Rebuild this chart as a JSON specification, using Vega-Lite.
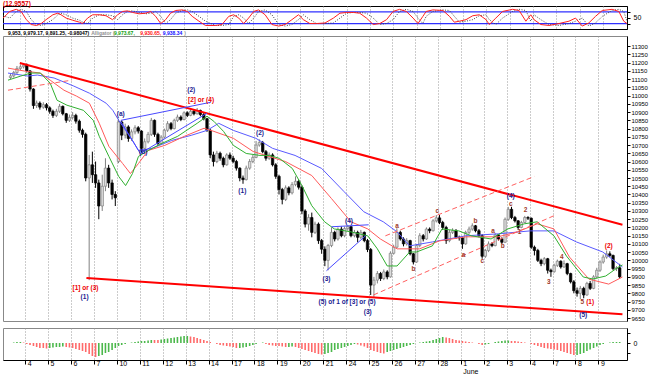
{
"$schema": "https://vega.github.io/schema/vega-lite/v6.json",
"padding": {"left": 0, "top": 0, "right": 0, "bottom": 0},
"background": "white",
"bounds": "flush",
"spacing": 7,
"config": {"font": "Liberation Sans", "view": {"stroke": "#888"}, "axis": {"labelFont": "Liberation Sans", "title": null, "labelOverlap": false, "labelBound": false}},
"datasets": {
"candles": [
{"t":-0.64,"o":11110,"h":11135,"l":11100,"c":11120,"ao":0,"g":"g"},
{"t":-0.5,"o":11120,"h":11150,"l":11110,"c":11140,"ao":0.5,"g":"g"},
{"t":-0.36,"o":11140,"h":11180,"l":11130,"c":11165,"ao":1,"g":"g"},
{"t":-0.21,"o":11165,"h":11190,"l":11155,"c":11175,"ao":1,"g":"g"},
{"t":-0.07,"o":11175,"h":11198,"l":11165,"c":11185,"ao":0.5,"g":"r"},
{"t":0.07,"o":11185,"h":11195,"l":11140,"c":11150,"ao":-1,"g":"r"},
{"t":0.21,"o":11150,"h":11155,"l":11025,"c":11040,"ao":-2,"g":"r"},
{"t":0.36,"o":11040,"h":11045,"l":10920,"c":10940,"ao":-3,"g":"r"},
{"t":0.5,"o":10940,"h":10970,"l":10925,"c":10955,"ao":-4,"g":"r"},
{"t":0.64,"o":10955,"h":10965,"l":10915,"c":10930,"ao":-5,"g":"r"},
{"t":0.79,"o":10930,"h":10960,"l":10920,"c":10945,"ao":-5,"g":"r"},
{"t":0.93,"o":10945,"h":10955,"l":10910,"c":10926,"ao":-5.5,"g":"r"},
{"t":1.07,"o":10926,"h":10935,"l":10890,"c":10905,"ao":-5,"g":"g"},
{"t":1.21,"o":10905,"h":10915,"l":10865,"c":10880,"ao":-4.5,"g":"g"},
{"t":1.36,"o":10880,"h":10920,"l":10870,"c":10905,"ao":-4,"g":"g"},
{"t":1.5,"o":10905,"h":10950,"l":10895,"c":10935,"ao":-4,"g":"g"},
{"t":1.64,"o":10935,"h":10940,"l":10880,"c":10890,"ao":-3.5,"g":"g"},
{"t":1.79,"o":10890,"h":10895,"l":10835,"c":10850,"ao":-4,"g":"r"},
{"t":1.93,"o":10850,"h":10885,"l":10840,"c":10868,"ao":-4.5,"g":"r"},
{"t":2.07,"o":10868,"h":10900,"l":10855,"c":10880,"ao":-5,"g":"r"},
{"t":2.21,"o":10880,"h":10890,"l":10830,"c":10845,"ao":-6,"g":"r"},
{"t":2.36,"o":10845,"h":10855,"l":10775,"c":10790,"ao":-7,"g":"r"},
{"t":2.5,"o":10790,"h":10800,"l":10745,"c":10765,"ao":-8,"g":"r"},
{"t":2.64,"o":10765,"h":10775,"l":10480,"c":10500,"ao":-9,"g":"r"},
{"t":2.79,"o":10500,"h":10640,"l":9880,"c":10580,"ao":-11,"g":"r"},
{"t":2.93,"o":10580,"h":10660,"l":10470,"c":10520,"ao":-13,"g":"r"},
{"t":3.07,"o":10520,"h":10600,"l":10440,"c":10470,"ao":-14,"g":"r"},
{"t":3.21,"o":10470,"h":10490,"l":10250,"c":10330,"ao":-13,"g":"g"},
{"t":3.36,"o":10330,"h":10520,"l":10300,"c":10450,"ao":-12,"g":"g"},
{"t":3.5,"o":10450,"h":10620,"l":10420,"c":10560,"ao":-10,"g":"g"},
{"t":3.64,"o":10560,"h":10580,"l":10440,"c":10470,"ao":-9,"g":"g"},
{"t":3.79,"o":10470,"h":10490,"l":10370,"c":10400,"ao":-7,"g":"g"},
{"t":3.93,"o":10400,"h":10420,"l":10330,"c":10380,"ao":-5,"g":"g"},
{"t":4.07,"o":10600,"h":10860,"l":10590,"c":10840,"ao":-3,"g":"g"},
{"t":4.21,"o":10840,"h":10850,"l":10730,"c":10760,"ao":-2,"g":"g"},
{"t":4.36,"o":10760,"h":10830,"l":10740,"c":10810,"ao":-1,"g":"g"},
{"t":4.5,"o":10810,"h":10820,"l":10720,"c":10740,"ao":0,"g":"g"},
{"t":4.64,"o":10740,"h":10795,"l":10725,"c":10780,"ao":0.5,"g":"g"},
{"t":4.79,"o":10780,"h":10820,"l":10765,"c":10805,"ao":1,"g":"g"},
{"t":4.93,"o":10805,"h":10815,"l":10770,"c":10785,"ao":1.5,"g":"g"},
{"t":5.07,"o":10785,"h":10790,"l":10650,"c":10680,"ao":2,"g":"g"},
{"t":5.21,"o":10680,"h":10740,"l":10665,"c":10720,"ao":2,"g":"g"},
{"t":5.36,"o":10720,"h":10780,"l":10710,"c":10765,"ao":2.5,"g":"g"},
{"t":5.5,"o":10765,"h":10865,"l":10755,"c":10850,"ao":3,"g":"g"},
{"t":5.64,"o":10850,"h":10855,"l":10750,"c":10765,"ao":3,"g":"r"},
{"t":5.79,"o":10765,"h":10775,"l":10695,"c":10710,"ao":3,"g":"r"},
{"t":5.93,"o":10710,"h":10760,"l":10700,"c":10748,"ao":3.5,"g":"g"},
{"t":6.07,"o":10748,"h":10800,"l":10740,"c":10790,"ao":4,"g":"g"},
{"t":6.21,"o":10790,"h":10845,"l":10780,"c":10830,"ao":4.5,"g":"g"},
{"t":6.36,"o":10830,"h":10840,"l":10790,"c":10800,"ao":5,"g":"g"},
{"t":6.5,"o":10800,"h":10860,"l":10795,"c":10850,"ao":5.5,"g":"g"},
{"t":6.64,"o":10850,"h":10885,"l":10840,"c":10870,"ao":6,"g":"g"},
{"t":6.79,"o":10870,"h":10880,"l":10845,"c":10855,"ao":6.5,"g":"g"},
{"t":6.93,"o":10855,"h":10905,"l":10850,"c":10896,"ao":7,"g":"g"},
{"t":7.07,"o":10896,"h":10905,"l":10870,"c":10880,"ao":7,"g":"g"},
{"t":7.21,"o":10880,"h":10915,"l":10875,"c":10905,"ao":6.5,"g":"r"},
{"t":7.36,"o":10905,"h":10915,"l":10880,"c":10890,"ao":6,"g":"r"},
{"t":7.5,"o":10890,"h":10925,"l":10885,"c":10910,"ao":5,"g":"r"},
{"t":7.64,"o":10910,"h":10915,"l":10875,"c":10885,"ao":4,"g":"r"},
{"t":7.79,"o":10885,"h":10895,"l":10850,"c":10860,"ao":3,"g":"r"},
{"t":7.93,"o":10860,"h":10865,"l":10780,"c":10790,"ao":2,"g":"r"},
{"t":8.07,"o":10790,"h":10800,"l":10620,"c":10640,"ao":1,"g":"r"},
{"t":8.21,"o":10640,"h":10660,"l":10570,"c":10600,"ao":0,"g":"r"},
{"t":8.36,"o":10600,"h":10665,"l":10590,"c":10650,"ao":-1,"g":"r"},
{"t":8.5,"o":10650,"h":10660,"l":10605,"c":10620,"ao":-2,"g":"r"},
{"t":8.64,"o":10620,"h":10630,"l":10565,"c":10580,"ao":-2.5,"g":"r"},
{"t":8.79,"o":10580,"h":10650,"l":10575,"c":10640,"ao":-3,"g":"r"},
{"t":8.93,"o":10640,"h":10655,"l":10610,"c":10620,"ao":-3.5,"g":"r"},
{"t":9.07,"o":10620,"h":10635,"l":10590,"c":10600,"ao":-4,"g":"r"},
{"t":9.21,"o":10600,"h":10610,"l":10545,"c":10560,"ao":-5,"g":"r"},
{"t":9.36,"o":10560,"h":10565,"l":10480,"c":10500,"ao":-5,"g":"g"},
{"t":9.5,"o":10500,"h":10515,"l":10465,"c":10490,"ao":-4.5,"g":"g"},
{"t":9.64,"o":10490,"h":10575,"l":10485,"c":10560,"ao":-4,"g":"g"},
{"t":9.79,"o":10560,"h":10615,"l":10550,"c":10600,"ao":-3,"g":"g"},
{"t":9.93,"o":10600,"h":10640,"l":10590,"c":10625,"ao":-2,"g":"g"},
{"t":10.07,"o":10625,"h":10725,"l":10620,"c":10700,"ao":-1,"g":"g"},
{"t":10.21,"o":10700,"h":10735,"l":10690,"c":10715,"ao":0,"g":"g"},
{"t":10.36,"o":10715,"h":10725,"l":10650,"c":10660,"ao":0.5,"g":"g"},
{"t":10.5,"o":10660,"h":10670,"l":10605,"c":10620,"ao":-1,"g":"r"},
{"t":10.64,"o":10620,"h":10655,"l":10610,"c":10640,"ao":-2,"g":"r"},
{"t":10.79,"o":10640,"h":10650,"l":10570,"c":10580,"ao":-2.5,"g":"r"},
{"t":10.93,"o":10580,"h":10590,"l":10495,"c":10510,"ao":-3,"g":"r"},
{"t":11.07,"o":10510,"h":10520,"l":10400,"c":10430,"ao":-3,"g":"r"},
{"t":11.21,"o":10430,"h":10440,"l":10340,"c":10370,"ao":-3.5,"g":"r"},
{"t":11.36,"o":10370,"h":10455,"l":10360,"c":10440,"ao":-4,"g":"r"},
{"t":11.5,"o":10440,"h":10450,"l":10395,"c":10410,"ao":-4,"g":"g"},
{"t":11.64,"o":10410,"h":10475,"l":10400,"c":10460,"ao":-3.5,"g":"g"},
{"t":11.79,"o":10460,"h":10510,"l":10450,"c":10480,"ao":-4,"g":"r"},
{"t":11.93,"o":10480,"h":10490,"l":10430,"c":10444,"ao":-5,"g":"r"},
{"t":12.07,"o":10444,"h":10455,"l":10280,"c":10300,"ao":-6,"g":"r"},
{"t":12.21,"o":10300,"h":10310,"l":10200,"c":10220,"ao":-7,"g":"r"},
{"t":12.36,"o":10220,"h":10280,"l":10180,"c":10260,"ao":-8,"g":"r"},
{"t":12.5,"o":10260,"h":10290,"l":10140,"c":10170,"ao":-9,"g":"r"},
{"t":12.64,"o":10170,"h":10235,"l":10160,"c":10220,"ao":-10,"g":"r"},
{"t":12.79,"o":10220,"h":10230,"l":10100,"c":10120,"ao":-11,"g":"r"},
{"t":12.93,"o":10120,"h":10130,"l":10040,"c":10068,"ao":-11.5,"g":"r"},
{"t":13.07,"o":10068,"h":10085,"l":9965,"c":10000,"ao":-11,"g":"g"},
{"t":13.21,"o":10000,"h":10100,"l":9940,"c":10090,"ao":-10,"g":"g"},
{"t":13.36,"o":10090,"h":10200,"l":10080,"c":10170,"ao":-9,"g":"g"},
{"t":13.5,"o":10170,"h":10180,"l":10115,"c":10130,"ao":-7,"g":"g"},
{"t":13.64,"o":10130,"h":10200,"l":10120,"c":10190,"ao":-6,"g":"g"},
{"t":13.79,"o":10190,"h":10205,"l":10140,"c":10150,"ao":-5,"g":"g"},
{"t":13.93,"o":10150,"h":10205,"l":10140,"c":10193,"ao":-4,"g":"g"},
{"t":14.07,"o":10193,"h":10215,"l":10180,"c":10205,"ao":-3,"g":"g"},
{"t":14.21,"o":10205,"h":10210,"l":10140,"c":10150,"ao":-2,"g":"g"},
{"t":14.36,"o":10150,"h":10185,"l":10140,"c":10170,"ao":-1,"g":"g"},
{"t":14.5,"o":10170,"h":10180,"l":10110,"c":10140,"ao":-1.5,"g":"r"},
{"t":14.64,"o":10140,"h":10185,"l":10130,"c":10170,"ao":-2.5,"g":"r"},
{"t":14.79,"o":10170,"h":10175,"l":10110,"c":10120,"ao":-3.5,"g":"r"},
{"t":14.93,"o":10120,"h":10130,"l":10050,"c":10066,"ao":-5,"g":"r"},
{"t":15.07,"o":10066,"h":10075,"l":9790,"c":9850,"ao":-7,"g":"r"},
{"t":15.21,"o":9850,"h":9900,"l":9775,"c":9880,"ao":-8,"g":"r"},
{"t":15.36,"o":9880,"h":9935,"l":9860,"c":9920,"ao":-9,"g":"r"},
{"t":15.5,"o":9920,"h":9930,"l":9875,"c":9890,"ao":-10,"g":"r"},
{"t":15.64,"o":9890,"h":9945,"l":9880,"c":9930,"ao":-10.5,"g":"r"},
{"t":15.79,"o":9930,"h":9940,"l":9885,"c":9900,"ao":-9,"g":"g"},
{"t":15.93,"o":9900,"h":10055,"l":9895,"c":10043,"ao":-8,"g":"g"},
{"t":16.07,"o":10043,"h":10095,"l":10035,"c":10080,"ao":-7,"g":"g"},
{"t":16.21,"o":10080,"h":10195,"l":10075,"c":10170,"ao":-6,"g":"g"},
{"t":16.36,"o":10170,"h":10180,"l":10120,"c":10130,"ao":-5,"g":"g"},
{"t":16.5,"o":10130,"h":10140,"l":10085,"c":10100,"ao":-4,"g":"g"},
{"t":16.64,"o":10100,"h":10135,"l":10090,"c":10120,"ao":-3,"g":"g"},
{"t":16.79,"o":10120,"h":10125,"l":10030,"c":10040,"ao":-2,"g":"g"},
{"t":16.93,"o":10040,"h":10045,"l":9975,"c":9990,"ao":-1,"g":"g"},
{"t":17.07,"o":9990,"h":10100,"l":9985,"c":10090,"ao":0,"g":"g"},
{"t":17.21,"o":10090,"h":10165,"l":10080,"c":10150,"ao":0.5,"g":"g"},
{"t":17.36,"o":10150,"h":10160,"l":10115,"c":10130,"ao":1,"g":"g"},
{"t":17.5,"o":10130,"h":10200,"l":10125,"c":10190,"ao":1.5,"g":"g"},
{"t":17.64,"o":10190,"h":10200,"l":10165,"c":10180,"ao":2,"g":"g"},
{"t":17.79,"o":10180,"h":10250,"l":10175,"c":10240,"ao":3,"g":"g"},
{"t":17.93,"o":10240,"h":10275,"l":10230,"c":10258,"ao":4,"g":"g"},
{"t":18.07,"o":10258,"h":10275,"l":10220,"c":10230,"ao":5,"g":"g"},
{"t":18.21,"o":10230,"h":10240,"l":10185,"c":10200,"ao":6,"g":"g"},
{"t":18.36,"o":10200,"h":10210,"l":10100,"c":10120,"ao":5.5,"g":"r"},
{"t":18.5,"o":10120,"h":10185,"l":10110,"c":10170,"ao":5,"g":"r"},
{"t":18.64,"o":10170,"h":10195,"l":10160,"c":10180,"ao":4,"g":"r"},
{"t":18.79,"o":10180,"h":10190,"l":10130,"c":10140,"ao":3,"g":"r"},
{"t":18.93,"o":10140,"h":10150,"l":10120,"c":10137,"ao":2.5,"g":"r"},
{"t":19.07,"o":10137,"h":10145,"l":10070,"c":10100,"ao":2,"g":"r"},
{"t":19.21,"o":10100,"h":10180,"l":10095,"c":10170,"ao":1.5,"g":"r"},
{"t":19.36,"o":10170,"h":10205,"l":10160,"c":10190,"ao":1,"g":"r"},
{"t":19.5,"o":10190,"h":10225,"l":10180,"c":10210,"ao":0.5,"g":"r"},
{"t":19.64,"o":10210,"h":10215,"l":10170,"c":10180,"ao":0,"g":"r"},
{"t":19.79,"o":10180,"h":10190,"l":10140,"c":10150,"ao":-1,"g":"r"},
{"t":19.93,"o":10150,"h":10160,"l":10010,"c":10025,"ao":-2,"g":"r"},
{"t":20.07,"o":10025,"h":10070,"l":10015,"c":10060,"ao":-1.5,"g":"g"},
{"t":20.21,"o":10060,"h":10115,"l":10050,"c":10100,"ao":-1,"g":"g"},
{"t":20.36,"o":10100,"h":10110,"l":10080,"c":10090,"ao":0,"g":"g"},
{"t":20.5,"o":10090,"h":10165,"l":10085,"c":10155,"ao":1,"g":"g"},
{"t":20.64,"o":10155,"h":10160,"l":10120,"c":10130,"ao":1.5,"g":"g"},
{"t":20.79,"o":10130,"h":10140,"l":10100,"c":10110,"ao":2,"g":"g"},
{"t":20.93,"o":10110,"h":10260,"l":10105,"c":10249,"ao":2.5,"g":"g"},
{"t":21.07,"o":10249,"h":10325,"l":10240,"c":10310,"ao":2.5,"g":"g"},
{"t":21.21,"o":10310,"h":10325,"l":10250,"c":10260,"ao":2,"g":"r"},
{"t":21.36,"o":10260,"h":10270,"l":10230,"c":10240,"ao":2,"g":"r"},
{"t":21.5,"o":10240,"h":10245,"l":10185,"c":10200,"ao":1.5,"g":"r"},
{"t":21.64,"o":10200,"h":10240,"l":10195,"c":10230,"ao":1,"g":"r"},
{"t":21.79,"o":10230,"h":10270,"l":10225,"c":10260,"ao":0.5,"g":"r"},
{"t":21.93,"o":10260,"h":10268,"l":10245,"c":10256,"ao":0,"g":"r"},
{"t":22.07,"o":10256,"h":10260,"l":10070,"c":10080,"ao":-1,"g":"r"},
{"t":22.21,"o":10080,"h":10090,"l":10030,"c":10060,"ao":-2,"g":"r"},
{"t":22.36,"o":10060,"h":10070,"l":9990,"c":10000,"ao":-3,"g":"r"},
{"t":22.5,"o":10000,"h":10010,"l":9965,"c":9980,"ao":-4,"g":"r"},
{"t":22.64,"o":9980,"h":10020,"l":9970,"c":10010,"ao":-5,"g":"r"},
{"t":22.79,"o":10010,"h":10015,"l":9920,"c":9940,"ao":-5.5,"g":"r"},
{"t":22.93,"o":9940,"h":9950,"l":9900,"c":9931,"ao":-6,"g":"r"},
{"t":23.07,"o":9931,"h":9980,"l":9925,"c":9970,"ao":-6.5,"g":"r"},
{"t":23.21,"o":9970,"h":10005,"l":9960,"c":9995,"ao":-7,"g":"r"},
{"t":23.36,"o":9995,"h":10000,"l":9950,"c":9960,"ao":-8,"g":"r"},
{"t":23.5,"o":9960,"h":10000,"l":9955,"c":9980,"ao":-9,"g":"r"},
{"t":23.64,"o":9980,"h":9985,"l":9910,"c":9920,"ao":-10,"g":"r"},
{"t":23.79,"o":9920,"h":9925,"l":9860,"c":9870,"ao":-11,"g":"r"},
{"t":23.93,"o":9870,"h":9880,"l":9800,"c":9816,"ao":-12,"g":"r"},
{"t":24.07,"o":9816,"h":9835,"l":9780,"c":9800,"ao":-12,"g":"g"},
{"t":24.21,"o":9800,"h":9845,"l":9765,"c":9830,"ao":-11,"g":"g"},
{"t":24.36,"o":9830,"h":9840,"l":9770,"c":9790,"ao":-10,"g":"g"},
{"t":24.5,"o":9790,"h":9870,"l":9785,"c":9860,"ao":-8,"g":"g"},
{"t":24.64,"o":9860,"h":9875,"l":9820,"c":9830,"ao":-6.5,"g":"g"},
{"t":24.79,"o":9830,"h":9910,"l":9825,"c":9900,"ao":-5,"g":"g"},
{"t":24.93,"o":9900,"h":9955,"l":9890,"c":9940,"ao":-3.5,"g":"g"},
{"t":25.07,"o":9940,"h":10000,"l":9930,"c":9990,"ao":-2,"g":"g"},
{"t":25.21,"o":9990,"h":10035,"l":9980,"c":10020,"ao":-1,"g":"g"},
{"t":25.36,"o":10020,"h":10060,"l":10010,"c":10040,"ao":0,"g":"g"},
{"t":25.5,"o":10040,"h":10055,"l":10020,"c":10030,"ao":0.5,"g":"g"},
{"t":25.64,"o":10030,"h":10035,"l":9940,"c":9950,"ao":1,"g":"g"},
{"t":25.79,"o":9950,"h":9965,"l":9935,"c":9955,"ao":1,"g":"g"},
{"t":25.93,"o":9955,"h":9979,"l":9891,"c":9900,"ao":1,"g":"g"}
],
"osc": [
{"t":-0.75,"v":48,"s":60},{"t":-0.46,"v":82,"s":48},{"t":-0.18,"v":93,"s":82},{"t":0.03,"v":82,"s":93},{"t":0.25,"v":40,"s":82},{"t":0.46,"v":15,"s":40},{"t":0.68,"v":10,"s":15},{"t":0.89,"v":20,"s":10},{"t":1.1,"v":40,"s":20},{"t":1.39,"v":65,"s":40},{"t":1.6,"v":73,"s":65},{"t":1.74,"v":65,"s":73},{"t":1.96,"v":48,"s":65},{"t":2.24,"v":37,"s":48},{"t":2.53,"v":27,"s":37},{"t":2.67,"v":20,"s":27},{"t":2.88,"v":48,"s":20},{"t":3.1,"v":65,"s":48},{"t":3.38,"v":65,"s":65},{"t":3.67,"v":60,"s":65},{"t":3.95,"v":40,"s":60},{"t":4.17,"v":65,"s":40},{"t":4.38,"v":82,"s":65},{"t":4.59,"v":85,"s":82},{"t":4.81,"v":77,"s":85},{"t":5.09,"v":70,"s":77},{"t":5.38,"v":73,"s":70},{"t":5.59,"v":82,"s":73},{"t":5.8,"v":57,"s":82},{"t":6.02,"v":20,"s":57},{"t":6.23,"v":40,"s":20},{"t":6.44,"v":73,"s":40},{"t":6.66,"v":87,"s":73},{"t":6.94,"v":90,"s":87},{"t":7.16,"v":82,"s":90},{"t":7.37,"v":57,"s":82},{"t":7.66,"v":32,"s":57},{"t":7.94,"v":10,"s":32},{"t":8.37,"v":10,"s":10},{"t":8.65,"v":15,"s":10},{"t":8.94,"v":57,"s":15},{"t":9.15,"v":65,"s":57},{"t":9.37,"v":48,"s":65},{"t":9.58,"v":20,"s":48},{"t":9.79,"v":48,"s":20},{"t":10.01,"v":82,"s":48},{"t":10.22,"v":90,"s":82},{"t":10.5,"v":65,"s":90},{"t":10.79,"v":15,"s":65},{"t":11.08,"v":7,"s":15},{"t":11.36,"v":15,"s":7},{"t":11.65,"v":40,"s":15},{"t":11.93,"v":65,"s":40},{"t":12.14,"v":40,"s":65},{"t":12.42,"v":20,"s":40},{"t":12.71,"v":20,"s":20},{"t":13.07,"v":23,"s":20},{"t":13.43,"v":48,"s":23},{"t":13.71,"v":73,"s":48},{"t":14.0,"v":77,"s":73},{"t":14.28,"v":77,"s":77},{"t":14.56,"v":73,"s":77},{"t":14.85,"v":48,"s":73},{"t":15.14,"v":15,"s":48},{"t":15.42,"v":20,"s":15},{"t":15.71,"v":40,"s":20},{"t":15.99,"v":82,"s":40},{"t":16.27,"v":93,"s":82},{"t":16.56,"v":82,"s":93},{"t":16.85,"v":48,"s":82},{"t":17.06,"v":20,"s":48},{"t":17.27,"v":57,"s":20},{"t":17.41,"v":82,"s":57},{"t":17.7,"v":90,"s":82},{"t":18.13,"v":87,"s":90},{"t":18.41,"v":57,"s":87},{"t":18.62,"v":27,"s":57},{"t":18.84,"v":32,"s":27},{"t":19.12,"v":40,"s":32},{"t":19.41,"v":60,"s":40},{"t":19.69,"v":65,"s":60},{"t":19.98,"v":40,"s":65},{"t":20.12,"v":15,"s":40},{"t":20.4,"v":48,"s":15},{"t":20.69,"v":82,"s":48},{"t":21.12,"v":93,"s":82},{"t":21.4,"v":87,"s":93},{"t":21.69,"v":32,"s":87},{"t":21.9,"v":65,"s":32},{"t":22.04,"v":40,"s":65},{"t":22.33,"v":15,"s":40},{"t":22.68,"v":10,"s":15},{"t":23.11,"v":20,"s":10},{"t":23.54,"v":32,"s":20},{"t":23.82,"v":48,"s":32},{"t":24.11,"v":7,"s":48},{"t":24.39,"v":23,"s":7},{"t":24.68,"v":57,"s":23},{"t":24.97,"v":87,"s":57},{"t":25.39,"v":93,"s":87},{"t":25.68,"v":82,"s":93},{"t":25.89,"v":32,"s":82},{"t":26.03,"v":20,"s":32}
],
"oscLevels": [{"lv":80},{"lv":20}],
"oscNote": [{"t":-0.75,"v":119,"text":"(12.9557)"}],
"jaw": [
{"t":-0.75,"v":11137},{"t":0.11,"v":11119},{"t":0.53,"v":11125},{"t":1.26,"v":11107},{"t":2.12,"v":11058},{"t":2.8,"v":11015},{"t":3.53,"v":10954},{"t":3.82,"v":10911},{"t":4.08,"v":10850},{"t":4.68,"v":10728},{"t":4.94,"v":10667},{"t":5.53,"v":10680},{"t":6.39,"v":10728},{"t":7.24,"v":10759},{"t":7.93,"v":10789},{"t":8.44,"v":10832},{"t":9.08,"v":10789},{"t":10.06,"v":10741},{"t":10.79,"v":10680},{"t":11.77,"v":10637},{"t":12.93,"v":10558},{"t":13.91,"v":10417},{"t":14.77,"v":10295},{"t":15.62,"v":10234},{"t":16.22,"v":10173},{"t":16.77,"v":10088},{"t":17.76,"v":10112},{"t":19.21,"v":10149},{"t":20.62,"v":10161},{"t":22.03,"v":10179},{"t":23.06,"v":10179},{"t":24.04,"v":10112},{"t":25.19,"v":10051},{"t":26.05,"v":9960}
],
"teeth": [
{"t":-0.75,"v":11167},{"t":-0.02,"v":11149},{"t":0.66,"v":11137},{"t":1.09,"v":11094},{"t":1.69,"v":11033},{"t":2.24,"v":10997},{"t":2.8,"v":10954},{"t":3.23,"v":10832},{"t":3.65,"v":10692},{"t":4.25,"v":10588},{"t":4.59,"v":10527},{"t":4.94,"v":10588},{"t":5.36,"v":10667},{"t":6.09,"v":10698},{"t":6.94,"v":10753},{"t":7.8,"v":10802},{"t":8.23,"v":10783},{"t":9.08,"v":10741},{"t":9.94,"v":10661},{"t":10.49,"v":10637},{"t":11.35,"v":10600},{"t":12.5,"v":10515},{"t":13.36,"v":10375},{"t":14.21,"v":10234},{"t":14.94,"v":10191},{"t":15.49,"v":10130},{"t":16.22,"v":10070},{"t":17.2,"v":10070},{"t":18.06,"v":10118},{"t":19.21,"v":10143},{"t":20.62,"v":10143},{"t":21.47,"v":10173},{"t":22.33,"v":10222},{"t":23.06,"v":10191},{"t":23.74,"v":10020},{"t":24.59,"v":9886},{"t":25.45,"v":9856},{"t":26.05,"v":9899}
],
"lips": [
{"t":-0.75,"v":11094},{"t":-0.19,"v":11119},{"t":0.24,"v":11137},{"t":0.66,"v":11137},{"t":1.09,"v":11076},{"t":1.39,"v":10972},{"t":1.82,"v":10942},{"t":2.54,"v":10911},{"t":2.97,"v":10850},{"t":3.23,"v":10753},{"t":3.65,"v":10631},{"t":4.08,"v":10509},{"t":4.38,"v":10454},{"t":4.68,"v":10527},{"t":4.94,"v":10631},{"t":5.36,"v":10667},{"t":5.96,"v":10710},{"t":6.65,"v":10753},{"t":7.5,"v":10832},{"t":7.93,"v":10875},{"t":8.23,"v":10844},{"t":8.65,"v":10783},{"t":9.08,"v":10698},{"t":9.64,"v":10649},{"t":10.24,"v":10637},{"t":10.66,"v":10637},{"t":11.09,"v":10619},{"t":11.65,"v":10558},{"t":12.07,"v":10454},{"t":12.5,"v":10332},{"t":13.06,"v":10234},{"t":13.48,"v":10191},{"t":14.21,"v":10173},{"t":14.94,"v":10149},{"t":15.36,"v":10070},{"t":15.79,"v":9966},{"t":16.22,"v":9966},{"t":16.77,"v":10051},{"t":17.07,"v":10051},{"t":17.76,"v":10088},{"t":18.18,"v":10191},{"t":18.91,"v":10179},{"t":19.47,"v":10149},{"t":20.32,"v":10130},{"t":21.05,"v":10191},{"t":21.77,"v":10222},{"t":22.33,"v":10234},{"t":23.06,"v":10149},{"t":23.61,"v":10026},{"t":24.34,"v":9899},{"t":24.76,"v":9887},{"t":25.32,"v":9905},{"t":25.88,"v":9960},{"t":26.05,"v":9972}
],
"trend": [
{"id":"u","t":-0.235,"v":11198},{"id":"u","t":26.05,"v":10216},
{"id":"l","t":2.67,"v":9893},{"id":"l","t":26.05,"v":9673}
],
"dashed": [
{"id":"d1","t":15.19,"v":9790},{"id":"d1","t":23.06,"v":10271},
{"id":"d2","t":15.71,"v":10149},{"id":"d2","t":22.2,"v":10509},
{"id":"d3","t":-0.75,"v":11033},{"id":"d3","t":2.03,"v":11094}
],
"wave": [
{"id":"w1","t":4.17,"v":10844},{"id":"w1","t":5.02,"v":10649},
{"id":"w2","t":4.17,"v":10850},{"id":"w2","t":8.1,"v":10960},
{"id":"w3","t":5.02,"v":10649},{"id":"w3","t":7.93,"v":10893},
{"id":"w4","t":13.14,"v":9937},{"id":"w4","t":14.85,"v":10150},
{"id":"w5","t":13.36,"v":10204},{"id":"w5","t":14.98,"v":10216}
],
"notes": [
{"t":4.17,"v":10887,"text":"(a)","kind":"primary"},
{"t":5.15,"v":10655,"text":"(b)","kind":"primary"},
{"t":7.24,"v":11033,"text":"(2)","kind":"primary"},
{"t":2.59,"v":9777,"text":"(1)","kind":"primary"},
{"t":9.47,"v":10424,"text":"(1)","kind":"primary"},
{"t":10.24,"v":10771,"text":"(2)","kind":"primary"},
{"t":13.14,"v":9887,"text":"(3)","kind":"primary"},
{"t":14.12,"v":10240,"text":"(4)","kind":"primary"},
{"t":14.04,"v":9747,"text":"(5) of 1 of [3] or (5)","kind":"primary"},
{"t":14.94,"v":9686,"text":"(3)","kind":"primary"},
{"t":21.18,"v":10392,"text":"(4)","kind":"primary"},
{"t":24.34,"v":9668,"text":"(5)","kind":"primary"},
{"t":7.67,"v":10972,"text":"[2] or (4)","kind":"alt"},
{"t":2.63,"v":9832,"text":"[1] or (3)","kind":"alt"},
{"t":24.64,"v":9747,"text":"(1)","kind":"alt"},
{"t":25.45,"v":10088,"text":"(2)","kind":"alt"},
{"t":16.22,"v":10210,"text":"a","kind":"minor"},
{"t":16.94,"v":9948,"text":"b","kind":"minor"},
{"t":17.97,"v":10301,"text":"c","kind":"minor"},
{"t":19.12,"v":10032,"text":"a","kind":"minor"},
{"t":19.64,"v":10240,"text":"b","kind":"minor"},
{"t":19.94,"v":9997,"text":"c","kind":"minor"},
{"t":20.41,"v":10179,"text":"a","kind":"minor"},
{"t":20.83,"v":10088,"text":"b","kind":"minor"},
{"t":21.18,"v":10344,"text":"c","kind":"minor"},
{"t":21.56,"v":10173,"text":"1","kind":"minor"},
{"t":21.82,"v":10307,"text":"2","kind":"minor"},
{"t":22.84,"v":9868,"text":"3","kind":"minor"},
{"t":23.4,"v":10020,"text":"4","kind":"minor"},
{"t":24.3,"v":9747,"text":"5","kind":"minor"}
],
"header": [
{"t":-0.75,"v":11382,"text":"9,953, 9,979.17, 9,891.25, -0.98047)","part":"val"},
{"t":2.88,"v":11382,"text":"Alligator (","part":"lbl"},
{"t":3.87,"v":11382,"text":"9,973.67,","part":"lips"},
{"t":5.02,"v":11382,"text":"9,930.65,","part":"teeth"},
{"t":6.0,"v":11382,"text":"9,938.34","part":"jaw"},
{"t":6.94,"v":11382,"text":")","part":"lbl"}
]
},
"vconcat": [
{
"width": 624, "height": 23,
"view": {"stroke": "#000"},
"layer": [
{"data": {"name": "oscLevels"}, "mark": {"type": "rule", "color": "#3030ff", "strokeWidth": 1.2},
 "encoding": {"y": {"field": "lv", "type": "quantitative", "scale": {"domain": [-8, 110], "nice": false, "zero": false},
  "axis": {"orient": "right", "values": [20, 50, 80], "tickCount": 20, "labelExpr": "datum.value == 50 ? '50' : ''", "tickSize": 3, "labelFontSize": 7, "labelPadding": 3, "domainColor": "#000", "tickColor": "#000", "grid": false}}}},
{"data": {"name": "osc"}, "mark": {"type": "line", "color": "#444", "strokeWidth": 1, "strokeDash": [1, 1.5]},
 "encoding": {"x": {"field": "t", "type": "quantitative", "scale": {"domain": [-0.75, 26.03], "nice": false, "zero": false},
  "axis": {"values": [0,1,2,3,4,5,6,7,8,9,10,11,12,13,14,15,16,17,18,19,20,21,22,23,24,25], "tickCount": 100, "grid": true, "gridDash": [1, 2], "gridColor": "#999", "labels": false, "ticks": false, "domain": false}},
  "y": {"field": "s", "type": "quantitative"}}},
{"data": {"name": "osc"}, "mark": {"type": "line", "color": "#ff2020", "strokeWidth": 1},
 "encoding": {"x": {"field": "t", "type": "quantitative"}, "y": {"field": "v", "type": "quantitative"}}},
{"data": {"name": "oscNote"}, "mark": {"type": "text", "align": "left", "baseline": "middle", "fontSize": 6.5, "fontWeight": "bold", "color": "#e00000"},
 "encoding": {"x": {"field": "t", "type": "quantitative"}, "y": {"field": "v", "type": "quantitative"}, "text": {"field": "text"}}}
]
},
{
"width": 624, "height": 285,
"view": {"stroke": "#888"},
"resolve": {"scale": {"color": "independent"}},
"layer": [
{"data": {"name": "candles"}, "mark": {"type": "rule", "strokeWidth": 1},
 "encoding": {"x": {"field": "t", "type": "quantitative", "scale": {"domain": [-0.75, 26.03], "nice": false, "zero": false},
  "axis": {"values": [0,1,2,3,4,5,6,7,8,9,10,11,12,13,14,15,16,17,18,19,20,21,22,23,24,25], "tickCount": 100, "grid": true, "gridDash": [1, 2], "gridColor": "#999", "labels": false, "ticks": false, "domain": false}},
  "y": {"field": "l", "type": "quantitative", "scale": {"domain": [9632, 11362], "nice": false, "zero": false},
   "axis": {"orient": "right", "values": [9650,9700,9750,9800,9850,9900,9950,10000,10050,10100,10150,10200,10250,10300,10350,10400,10450,10500,10550,10600,10650,10700,10750,10800,10850,10900,10950,11000,11050,11100,11150,11200,11250,11300], "tickCount": 100, "format": "d", "labelFontSize": 6, "labelOverlap": false, "labelBound": false, "labelFlush": false, "tickSize": 3, "labelPadding": 1, "domainColor": "#000", "tickColor": "#000", "labelColor": "#000", "grid": false}},
  "y2": {"field": "h"},
  "color": {"condition": {"test": "datum.c >= datum.o", "value": "#808080"}, "value": "#000000"}}},
{"data": {"name": "candles"}, "mark": {"type": "bar", "width": 2.4, "strokeWidth": 0.7},
 "encoding": {"x": {"field": "t", "type": "quantitative"}, "y": {"field": "o", "type": "quantitative"}, "y2": {"field": "c"},
  "fill": {"condition": {"test": "datum.c >= datum.o", "value": "#dcdcdc"}, "value": "#000000"},
  "stroke": {"condition": {"test": "datum.c >= datum.o", "value": "#808080"}, "value": "#000000"}}},
{"data": {"name": "jaw"}, "mark": {"type": "line", "color": "#5a5aff", "strokeWidth": 1},
 "encoding": {"x": {"field": "t", "type": "quantitative"}, "y": {"field": "v", "type": "quantitative"}}},
{"data": {"name": "teeth"}, "mark": {"type": "line", "color": "#ff5a5a", "strokeWidth": 1},
 "encoding": {"x": {"field": "t", "type": "quantitative"}, "y": {"field": "v", "type": "quantitative"}}},
{"data": {"name": "lips"}, "mark": {"type": "line", "color": "#30b030", "strokeWidth": 1},
 "encoding": {"x": {"field": "t", "type": "quantitative"}, "y": {"field": "v", "type": "quantitative"}}},
{"data": {"name": "trend"}, "mark": {"type": "line", "color": "#ff0000", "strokeWidth": 2},
 "encoding": {"x": {"field": "t", "type": "quantitative"}, "y": {"field": "v", "type": "quantitative"}, "detail": {"field": "id"}}},
{"data": {"name": "dashed"}, "mark": {"type": "line", "color": "#ff6060", "strokeWidth": 1, "strokeDash": [5, 3]},
 "encoding": {"x": {"field": "t", "type": "quantitative"}, "y": {"field": "v", "type": "quantitative"}, "detail": {"field": "id"}}},
{"data": {"name": "wave"}, "mark": {"type": "line", "color": "#4848ff", "strokeWidth": 1},
 "encoding": {"x": {"field": "t", "type": "quantitative"}, "y": {"field": "v", "type": "quantitative"}, "detail": {"field": "id"}}},
{"data": {"name": "notes"}, "mark": {"type": "text", "fontSize": 6.5, "fontWeight": "bold", "align": "center", "baseline": "middle"},
 "encoding": {"x": {"field": "t", "type": "quantitative"}, "y": {"field": "v", "type": "quantitative"}, "text": {"field": "text"},
  "color": {"field": "kind", "type": "nominal", "scale": {"domain": ["primary", "alt", "minor"], "range": ["#1a1a90", "#ee0000", "#a03a2a"]}, "legend": null}}},
{"data": {"name": "header"}, "mark": {"type": "text", "fontSize": 5, "fontWeight": "bold", "align": "left", "baseline": "middle"},
 "encoding": {"x": {"field": "t", "type": "quantitative"}, "y": {"field": "v", "type": "quantitative"}, "text": {"field": "text"},
  "color": {"field": "part", "type": "nominal", "scale": {"domain": ["val", "lbl", "lips", "teeth", "jaw"], "range": ["#000000", "#909090", "#10a010", "#ff1010", "#1010ff"]}, "legend": null}}}
]
},
{
"width": 624, "height": 32,
"view": {"stroke": "#888"},
"layer": [
{"data": {"name": "candles"}, "mark": {"type": "bar", "width": 1.6},
 "encoding": {"x": {"field": "t", "type": "quantitative", "scale": {"domain": [-0.75, 26.03], "nice": false, "zero": false},
  "axis": {"values": [0,1,2,3,4,5,6,7,8,9,10,11,12,13,14,15,16,17,18,19,20,21,22,23,24,25], "tickCount": 100, "grid": true, "gridDash": [1, 2], "gridColor": "#999", "tickSize": 4, "tickColor": "#000", "domainColor": "#000", "labelAlign": "left", "labelBaseline": "top", "labelOffset": 2, "labelPadding": -5, "labelFontSize": 7, "labelLineHeight": 8, "labelColor": "#000", "labelOverlap": false, "labelFlush": false,
   "labelExpr": "datum.value == 19 ? ['1', 'June'] : ['4','5','6','7','10','11','12','13','14','17','18','19','20','21','24','25','26','27','28','1','2','3','4','7','8','9'][datum.value]"}},
  "y": {"field": "ao", "type": "quantitative", "stack": null, "scale": {"domain": [-17, 15], "nice": false, "zero": false},
   "axis": {"orient": "right", "values": [-10, 0, 10], "tickCount": 20, "labelExpr": "datum.value == 0 ? '0' : ''", "tickSize": 3, "labelFontSize": 7, "labelPadding": 3, "domainColor": "#000", "tickColor": "#000", "grid": false}},
  "y2": {"datum": 0},
  "color": {"field": "g", "type": "nominal", "scale": {"domain": ["g", "r"], "range": ["#4cb84c", "#ff6a6a"]}, "legend": null}}}
]
}
]
}
